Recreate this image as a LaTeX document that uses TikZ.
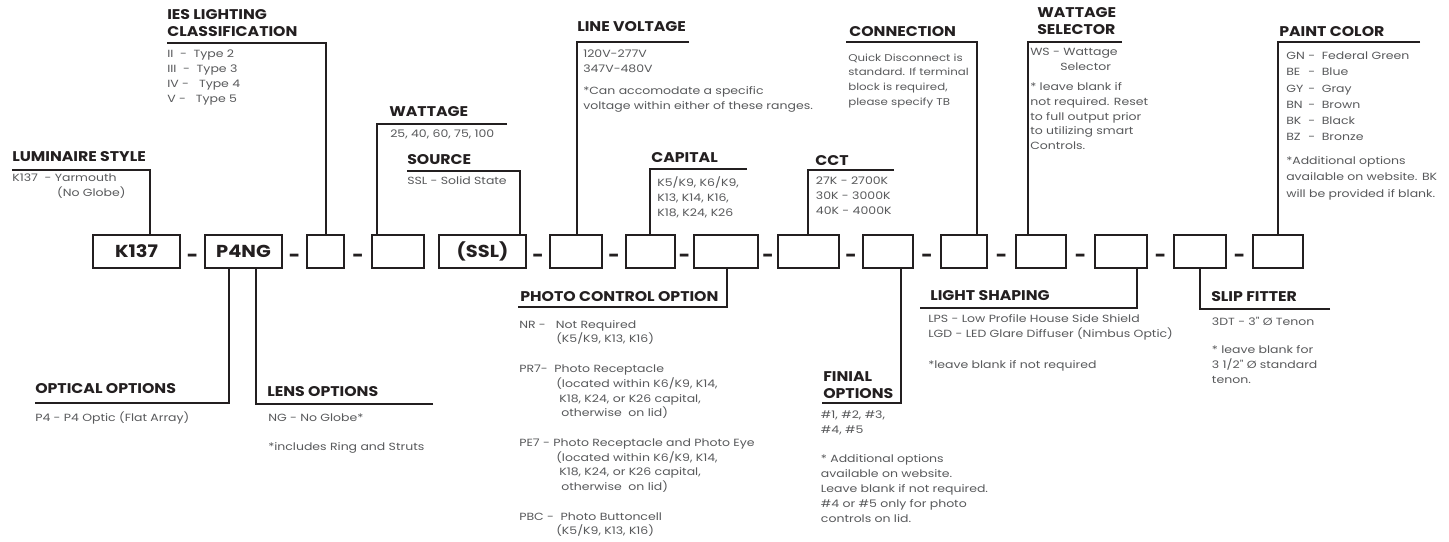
\documentclass[tikz,border=0pt]{standalone}
\usepackage{fontspec}
\setmainfont{Poppins}
\newfontfamily\bodyfont{Poppins}[FakeStretch=1.2]
\newfontfamily\headfont{Poppins}[FakeStretch=1.12]
\usetikzlibrary{positioning, calc}
\definecolor{ink}{RGB}{35,31,32}
\definecolor{copy}{RGB}{88,89,91}

\begin{document}
\begin{tikzpicture}[x=0.025cm, y=-0.025cm,
    box/.style={draw=ink, line width=0.9pt, minimum height=0.825cm, inner sep=0pt, text=ink,
        font=\headfont\bfseries\fontsize{12.3}{14}\selectfont},
    sep/.style={inner sep=0pt, text=ink, font=\bfseries\fontsize{14}{14}\selectfont},
    head/.style={anchor=south west, inner sep=0pt, align=left, text=ink,
        font=\headfont\bfseries\fontsize{10}{12}\selectfont},
    body/.style={anchor=north west, inner sep=0pt, align=left, text=copy,
        font=\bodyfont\fontsize{7.4}{10.5}\selectfont},
    wire/.style={draw=ink, line width=0.9pt}]
    \useasboundingbox (0,0) rectangle (1449,541);

    % code boxes
    \node[box, minimum width=2.175cm] (b1) at (136.5,251.5) {K137\hspace{0.4cm}};
    \node[box, minimum width=1.925cm] (b2) at (243.5,251.5) {P4NG};
    \node[box, minimum width=0.925cm] (b3) at (325.5,251.5) {};
    \node[box, minimum width=1.3cm] (b4) at (398,251.5) {};
    \node[box, minimum width=2.175cm] (b5) at (482.5,251.5) {(SSL)};
    \node[box, minimum width=1.3cm] (b6) at (576,251.5) {};
    \node[box, minimum width=1.225cm] (b7) at (650.5,251.5) {};
    \node[box, minimum width=1.6cm] (b8) at (726,251.5) {};
    \node[box, minimum width=1.525cm] (b9) at (808.5,251.5) {};
    \node[box, minimum width=1.25cm] (b10) at (888,251.5) {};
    \node[box, minimum width=1.15cm] (b11) at (964,251.5) {};
    \node[box, minimum width=1.25cm] (b12) at (1041,251.5) {};
    \node[box, minimum width=1.3cm] (b13) at (1121,251.5) {};
    \node[box, minimum width=1.3cm] (b14) at (1200,251.5) {};
    \node[box, minimum width=1.25cm] (b15) at (1278,251.5) {};

    \foreach \a/\b [count=\i] in {b1/b2,b2/b3,b3/b4,b5/b6,b6/b7,b7/b8,b8/b9,b9/b10,b10/b11,b11/b12,b12/b13,b13/b14,b14/b15}
        \node[sep, anchor=base] (d\i) at ($(\a.east)!.5!(\b.west)+(0,11)$) {-};

    % luminaire style
    \coordinate (lumL) at (12,170);
    \coordinate (lumR) at (150,170);
    \node[head] (lumT) at (12,162) {LUMINAIRE STYLE};
    \node[body] (lumB) at (12,174) {K137\ \ - Yarmouth\\\hspace*{1.12cm}(No Globe)};
    \draw[wire] (lumL) -- (lumR) -- (lumR |- b1.north);

    % ies lighting classification
    \coordinate (iesL) at (167,43);
    \coordinate (iesR) at (326,43);
    \node[head] (iesT) at (167,37) {IES LIGHTING\\CLASSIFICATION};
    \node[body] (iesB) at (167,50) {II\ \ -\ \ Type 2\\III\ \ -\ \ Type 3\\IV -\ \ \ Type 4\\V -\ \ \ Type 5};
    \draw[wire] (iesL) -- (iesR) -- (iesR |- b3.north);

    % wattage
    \coordinate (wattL) at (377,124);
    \coordinate (wattR) at (507,124);
    \node[head] (wattT) at (389,117) {WATTAGE};
    \node[body] (wattB) at (390,130) {25, 40, 60, 75, 100};
    \draw[wire] (wattR) -- (wattL) -- (wattL |- b4.north);

    % source
    \coordinate (srcL) at (407,171);
    \coordinate (srcR) at (520,171);
    \node[head] (srcT) at (407,165) {SOURCE};
    \node[body] (srcB) at (407,176.7) {SSL - Solid State};
    \draw[wire] (srcL) -- (srcR) -- (srcR |- b5.north);

    % line voltage
    \coordinate (lineL) at (577,42);
    \coordinate (lineR) at (689,42);
    \node[head] (lineT) at (577,32) {LINE VOLTAGE};
    \node[body] (lineB) at (583,50) {120V-277V\\347V-480V\\[5pt]*Can accomodate a specific\\voltage within either of these ranges.};
    \draw[wire] (lineR) -- (lineL) -- (lineL |- b6.north);

    % connection
    \coordinate (connL) at (846,42);
    \coordinate (connR) at (977,42);
    \node[head] (connT) at (849,37) {CONNECTION};
    \node[body, font=\bodyfont\fontsize{7}{10.5}\selectfont] (connB) at (848,53.3) {Quick Disconnect is\\standard. If terminal\\block is required,\\please specify TB};
    \draw[wire] (connL) -- (connR) -- (connR |- b11.north);

    % capital
    \coordinate (capL) at (650,169);
    \coordinate (capR) at (747,169);
    \node[head] (capT) at (651,163) {CAPITAL};
    \node[body] (capB) at (657,176.7) {K5/K9, K6/K9,\\K13, K14, K16,\\K18, K24, K26};
    \draw[wire] (capR) -- (capL) -- (capL |- b7.north);

    % cct
    \coordinate (cctL) at (808,170);
    \coordinate (cctR) at (894,170);
    \node[head] (cctT) at (815,166) {CCT};
    \node[body] (cctB) at (815.7,176.7) {27K - 2700K\\30K - 3000K\\40K - 4000K};
    \draw[wire] (cctR) -- (cctL) -- (cctL |- b9.north);

    % wattage selector
    \coordinate (wselL) at (1028,42);
    \coordinate (wselR) at (1122,42);
    \node[head] (wselT) at (1037,35) {WATTAGE\\SELECTOR};
    \node[body] (wselB) at (1030,48.3) {WS - Wattage\\\hspace*{0.75cm}Selector\\[3.7pt]* leave blank if\\not required. Reset\\to full output prior\\to utilizing smart\\Controls.};
    \draw[wire] (wselR) -- (wselL) -- (wselL |- b12.north);

    % paint color
    \coordinate (paintL) at (1278,42);
    \coordinate (paintR) at (1420,42);
    \node[head] (paintT) at (1279,37) {PAINT COLOR};
    \node[body, font=\bodyfont\fontsize{7.4}{11.5}\selectfont] (paintB) at (1286,51.7)
        {\makebox[0.55cm][l]{GN}-\ \ Federal Green\\\makebox[0.55cm][l]{BE}-\ \ Blue\\\makebox[0.55cm][l]{GY}-\ \ Gray\\\makebox[0.55cm][l]{BN}-\ \ Brown\\\makebox[0.55cm][l]{BK}-\ \ Black\\\makebox[0.55cm][l]{BZ}-\ \ Bronze\\[5.7pt]*Additional options\\available on website. BK\\will be provided if blank.};
    \draw[wire] (paintR) -- (paintL) -- (paintL |- b15.north);

    % optical options
    \coordinate (optL) at (35,403);
    \coordinate (optR) at (229,403);
    \node[head] (optT) at (35,394) {OPTICAL OPTIONS};
    \node[body] (optB) at (35,411.7) {P4 - P4 Optic (Flat Array)};
    \draw[wire] (optL) -- (optR) -- (optR |- b2.south);

    % lens options
    \coordinate (lensL) at (256,404);
    \coordinate (lensR) at (433,404);
    \node[head] (lensT) at (267,397) {LENS OPTIONS};
    \node[body] (lensB) at (268,413.3) {NG - No Globe*\\[10.5pt]*includes Ring and Struts};
    \draw[wire] (lensR) -- (lensL) -- (lensL |- b2.south);

    % photo control option
    \coordinate (photoL) at (518,307);
    \coordinate (photoR) at (727,307);
    \node[head] (photoT) at (520,302) {PHOTO CONTROL OPTION};
    \node[body] (photoB) at (519,320) {NR -\ \ \ Not Required\\\hspace*{0.925cm}(K5/K9, K13, K16)\\[10.5pt]PR7-\ \ Photo Receptacle\\\hspace*{0.925cm}(located within K6/K9, K14,\\\hspace*{1cm}K18, K24, or K26 capital,\\\hspace*{1.05cm}otherwise\ \ on lid)\\[10.5pt]PE7 - Photo Receptacle and Photo Eye\\\hspace*{0.925cm}(located within K6/K9, K14,\\\hspace*{1cm}K18, K24, or K26 capital,\\\hspace*{1.05cm}otherwise\ \ on lid)\\[10.5pt]PBC -\ \ Photo Buttoncell\\\hspace*{0.925cm}(K5/K9, K13, K16)};
    \draw[wire] (photoL) -- (photoR) -- (photoR |- b8.south);

    % finial options
    \coordinate (finL) at (822,403);
    \coordinate (finR) at (901,403);
    \node[head] (finT) at (823,399) {FINIAL\\OPTIONS};
    \node[body] (finB) at (820.7,410.7) {\#1, \#2, \#3,\\\#4, \#5\\[10.5pt]* Additional options\\available on website.\\Leave blank if not required.\\\#4 or \#5 only for photo\\controls on lid.};
    \draw[wire] (finL) -- (finR) -- (finR |- b10.south);

    % light shaping
    \coordinate (lightL) at (920,308);
    \coordinate (lightR) at (1137,308);
    \node[head] (lightT) at (930,301) {LIGHT SHAPING};
    \node[body] (lightB) at (928,314.3) {LPS - Low Profile House Side Shield\\LGD - LED Glare Diffuser (Nimbus Optic)\\[12pt]*leave blank if not required};
    \draw[wire] (lightL) -- (lightR) -- (lightR |- b13.south);

    % slip fitter
    \coordinate (slipL) at (1200,309);
    \coordinate (slipR) at (1330,309);
    \node[head] (slipT) at (1211,302) {SLIP FITTER};
    \node[body] (slipB) at (1211.7,316.7) {3DT - 3" Ø Tenon\\[9.6pt]* leave blank for\\3 1/2" Ø standard\\tenon.};
    \draw[wire] (slipR) -- (slipL) -- (slipL |- b14.south);
\end{tikzpicture}
\end{document}
